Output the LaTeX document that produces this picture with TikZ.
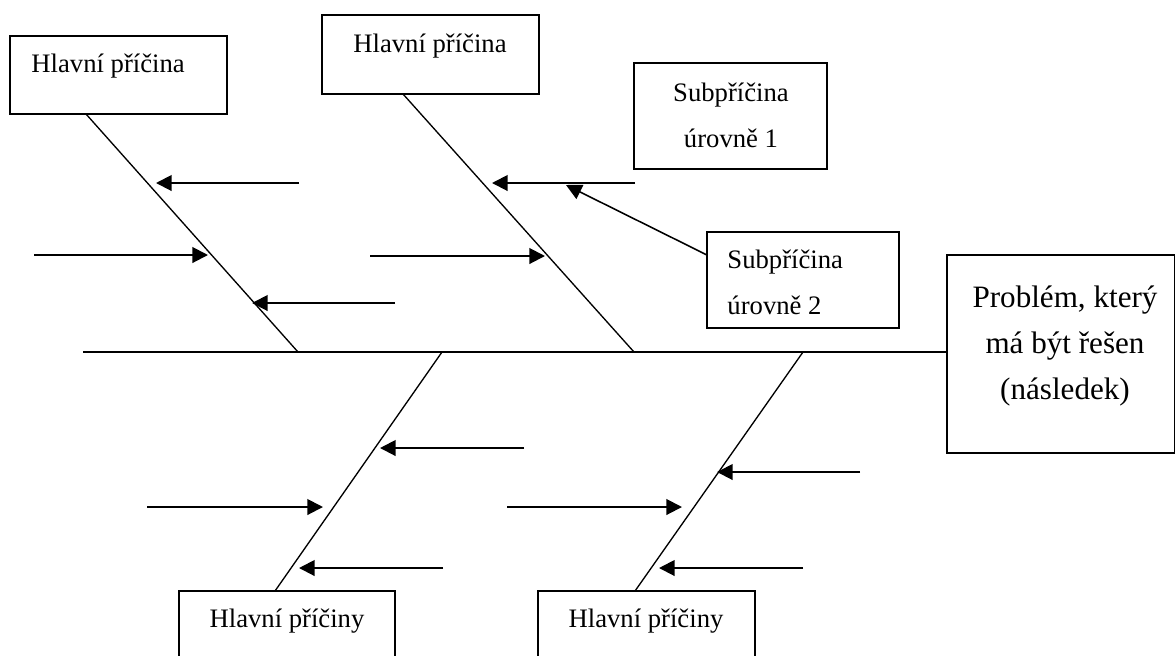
\documentclass[tikz,border=0pt]{standalone}
\usepackage{fontspec}
\setmainfont{Liberation Serif}
\usetikzlibrary{arrows.meta,fit}
\tikzset{
  box/.style={draw, line width=0.7pt, inner sep=0pt},
  bone/.style={line width=0.6pt},
  arr/.style={line width=0.9pt, -{Triangle[length=7pt,width=7pt]}},
  subarr/.style={line width=0.7pt, -{Triangle[length=7pt,width=7pt]}},
  lbl/.style={inner sep=0pt, font=\fontsize{12}{14}\selectfont},
  biglbl/.style={inner sep=0pt, font=\fontsize{14}{16}\selectfont}
}
\begin{document}
\begin{tikzpicture}[x=0.45pt, y=-0.45pt]
  \useasboundingbox (0,0) rectangle (1175,655);
  \clip (0,0) rectangle (1175,655);

  % Boxes of the main causes (top)
  \node [box, fit={(10,36) (227,114)}] (causeA) {};%
  \node [lbl, anchor=base west] (causeAtext) at (31,72) {Hlavní příčina};%
  \node [box, fit={(322,15) (539,94)}] (causeB) {};%
  \node [lbl, anchor=base] (causeBtext) at (430,52) {Hlavní příčina};%

  % Boxes of the sub causes
  \node [box, fit={(634,63) (827,169)}] (subA) {};%
  \node [lbl, anchor=base] (subAtext1) at (731,101) {Subpříčina};%
  \node [lbl, anchor=base] (subAtext2) at (731,147) {úrovně 1};%
  \node [box, fit={(707,232) (899,328)}] (subB) {};%
  \node [lbl, anchor=base west] (subBtext1) at (727,268) {Subpříčina};%
  \node [lbl, anchor=base west] (subBtext2) at (727,314) {úrovně 2};%

  % Box of the problem (head)
  \node [box, fit={(947,255) (1174.5,453)}] (problem) {};%
  \node [biglbl, anchor=base] (problemtext1) at (1065,307) {Problém, který};%
  \node [biglbl, anchor=base] (problemtext2) at (1065,353) {má být řešen};%
  \node [biglbl, anchor=base] (problemtext3) at (1065,399) {(následek)};%

  % Boxes of the main causes (bottom)
  \node [box, fit={(179,591) (395,700)}] (causeC) {};%
  \node [lbl, anchor=base] (causeCtext) at (287,627) {Hlavní příčiny};%
  \node [box, fit={(538,591) (755,700)}] (causeD) {};%
  \node [lbl, anchor=base] (causeDtext) at (646,627) {Hlavní příčiny};%

  % Spine
  \coordinate (tail) at (83,352);
  \draw [bone, line width=0.7pt] (tail) -- (problem.west |- tail);%

  % Bones
  \coordinate (boneAtop) at (86,114);
  \coordinate (boneAend) at (298,352);
  \coordinate (boneBtop) at (403,94);
  \coordinate (boneBend) at (634,352);
  \coordinate (boneCend) at (442,352);
  \coordinate (boneCbot) at (275,591);
  \coordinate (boneDend) at (803,352);
  \coordinate (boneDbot) at (635,591);
  \draw [bone] (boneAtop) -- (boneAend);%
  \draw [bone] (boneBtop) -- (boneBend);%
  \draw [bone] (boneCend) -- (boneCbot);%
  \draw [bone] (boneDend) -- (boneDbot);%

  % Arrows to bone A
  \coordinate (a1s) at (299,183);  \coordinate (a1e) at (156,183);
  \coordinate (a2s) at (34,255);   \coordinate (a2e) at (208,255);
  \coordinate (a3s) at (395,303);  \coordinate (a3e) at (252,303);
  \draw [arr] (a1s) -- (a1e);%
  \draw [arr] (a2s) -- (a2e);%
  \draw [arr] (a3s) -- (a3e);%

  % Arrows to bone B
  \coordinate (b1s) at (635,183);  \coordinate (b1e) at (492,183);
  \coordinate (b2s) at (370,256);  \coordinate (b2e) at (545,256);
  \draw [arr] (b1s) -- (b1e);%
  \draw [arr] (b2s) -- (b2e);%

  % Sub cause level 2 to level 1
  \coordinate (s1s) at (707,255);  \coordinate (s1e) at (566,185);
  \draw [subarr] (s1s) -- (s1e);%

  % Arrows to bone C
  \coordinate (c1s) at (524,448);  \coordinate (c1e) at (380,448);
  \coordinate (c2s) at (147,507);  \coordinate (c2e) at (323,507);
  \coordinate (c3s) at (443,568);  \coordinate (c3e) at (299,568);
  \draw [arr] (c1s) -- (c1e);%
  \draw [arr] (c2s) -- (c2e);%
  \draw [arr] (c3s) -- (c3e);%

  % Arrows to bone D
  \coordinate (d1s) at (860,472);  \coordinate (d1e) at (717,472);
  \coordinate (d2s) at (507,507);  \coordinate (d2e) at (682,507);
  \coordinate (d3s) at (803,568);  \coordinate (d3e) at (659,568);
  \draw [arr] (d1s) -- (d1e);%
  \draw [arr] (d2s) -- (d2e);%
  \draw [arr] (d3s) -- (d3e);%
\end{tikzpicture}
\end{document}
